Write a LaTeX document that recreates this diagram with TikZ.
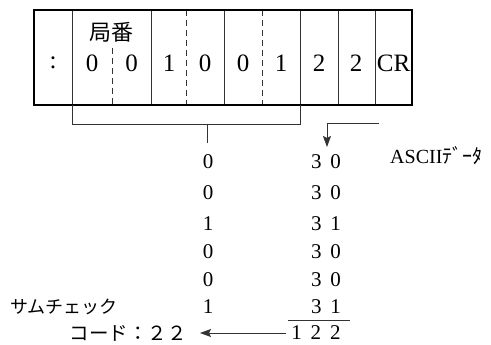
\documentclass[tikz,border=0pt]{standalone}
\usepackage{fontspec}
\setmainfont{Liberation Serif}
\newfontfamily\latinfont{Liberation Serif}
\newfontfamily\jpfont{Noto Sans CJK JP}
\usetikzlibrary{arrows.meta}
\tikzset{
  celltext/.style={font=\latinfont\fontsize{25}{30}\selectfont,inner sep=0pt},
  numtext/.style={font=\latinfont\fontsize{21}{26}\selectfont,inner sep=0pt},
  jptext/.style={font=\jpfont\fontsize{18}{22}\selectfont,inner sep=0pt},
  rule/.style={line width=0.8pt,draw=black!80}
}
\begin{document}
\begin{tikzpicture}[x=1pt,y=-1pt,>=Stealth]
\useasboundingbox(0,0)rectangle(491,345);
% frame
\draw[rule](72,10)--(72,105) (151,10)--(151,105) (224,10)--(224,105)
 (300,10)--(300,105) (338,10)--(338,105) (375,10)--(375,105);
\draw[rule,dash pattern=on 6pt off 4pt](112,48)--(112,105) (186,10)--(186,105) (262,10)--(262,105);
\draw[line width=1.8pt](34,10)rectangle(412,105);
% texts in the frame
\node[jptext,font=\jpfont\fontsize{22}{26}\selectfont](kyoku)at(111,32){局番};
\foreach \t/\x [count=\i] in {:/53,0/92,0/131.5,1/169,0/205,0/243,1/281,2/319,2/356,CR/393.5}
  \node[celltext](c\i)at(\x,63){\t};
% bracket and arrow
\coordinate(bl)at(72,105); \coordinate(br)at(300,105);
\coordinate(bm)at(207,124); \coordinate(bt)at(207,143);
\draw[rule](bl)--(72,124)--(300,124)--(br);
\draw[rule](bm)--(bt);
\coordinate(as)at(379,123); \coordinate(ae)at(327,147);
\draw[rule,-{Stealth[length=11pt,width=8pt,inset=2pt]}](as)-|(ae);
% columns
\foreach \a/\b/\y [count=\i] in {0/0/162,0/0/193,1/1/224,0/0/252,0/0/280,1/1/307}{
  \node[numtext](l\i)at(208,\y){\a};
  \node[numtext](r\i)at(326,\y){3\kern9pt\b};
}
\node[font=\latinfont\fontsize{20}{24}\selectfont,inner sep=0pt,anchor=west](ascii)at(390,156){ASCII{\jpfont ﾃﾞｰﾀ}};
\draw[rule](288,320)--(350,320);
\node[numtext](sum)at(316,333){1\kern9pt 2\kern9pt 2};
\node[jptext,anchor=west](check)at(10,307){サムチェック};
\node[jptext,font=\jpfont\fontsize{19.5}{22}\selectfont,anchor=east](code)at(187,333){コード：２２};
\draw[rule,-{Stealth[length=11pt,width=8pt,inset=2pt]}](sum.west)++(-5,0)--(200,333);
\end{tikzpicture}
\end{document}
